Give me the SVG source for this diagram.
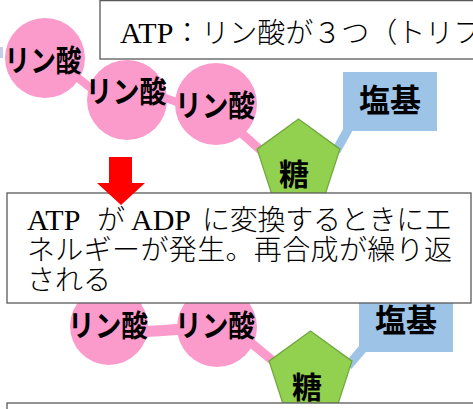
<svg xmlns="http://www.w3.org/2000/svg" width="473" height="409" viewBox="0 0 473 409">
<style>
.pink{fill:#fb9bcb}
.band{stroke:#fb9bcb;fill:none}
.bband{stroke:#9dc3e6;fill:none}
.blue{fill:#9dc3e6}
.sugar{fill:#92d050;stroke:#71a83c;stroke-width:1.3}
.lbl{font-family:'Noto Sans CJK JP','Noto Sans CJK SC',sans-serif;font-weight:bold;fill:#000;text-anchor:middle}
.box{fill:#fff;stroke:#595959;stroke-width:1.3}
.txt{font-family:'Liberation Serif','Noto Sans CJK JP',serif;font-size:28px;fill:#000;font-weight:300}
.lat{font-size:30px}
</style>
<rect x="0" y="47" width="3" height="11" fill="#c5cde8"/>
<g id="connectors">
<line class="band" x1="68" y1="70" x2="97" y2="93" stroke-width="8"/>
<line class="band" x1="160" y1="96" x2="182" y2="104" stroke-width="8"/>
<line class="band" x1="238" y1="130" x2="266" y2="155" stroke-width="9"/>
<line class="bband" x1="350" y1="126" x2="336" y2="151" stroke-width="9"/>
<line class="band" x1="140" y1="332" x2="185" y2="329" stroke-width="11"/>
<line class="band" x1="244" y1="337" x2="279" y2="366" stroke-width="9"/>
<line class="bband" x1="365" y1="346" x2="348" y2="366" stroke-width="9"/>
</g>
<g id="phosphate1"><circle class="pink" cx="45" cy="58" r="40"/><text class="lbl" x="43" y="71" font-size="30" textLength="77" lengthAdjust="spacingAndGlyphs">リン酸</text></g>
<g id="phosphate2"><circle class="pink" cx="127" cy="100" r="40"/><text class="lbl" x="126" y="102" font-size="30" textLength="81" lengthAdjust="spacingAndGlyphs">リン酸</text></g>
<g id="phosphate3"><circle class="pink" cx="216" cy="104" r="41"/><text class="lbl" x="215" y="116" font-size="30" textLength="80" lengthAdjust="spacingAndGlyphs">リン酸</text></g>
<g id="sugar1"><polygon class="sugar" points="298.5,119 339.9,149.1 324.1,197.7 272.9,197.7 257.1,149.1"/><text class="lbl" x="294" y="185" font-size="30">糖</text></g>
<g id="base1"><rect class="blue" x="343" y="72" width="94" height="59"/><text class="lbl" x="390" y="112" font-size="32" textLength="62" lengthAdjust="spacingAndGlyphs">塩基</text></g>
<g id="phosphate4"><circle class="pink" cx="109" cy="326" r="39"/><text class="lbl" x="108" y="336" font-size="30" textLength="80" lengthAdjust="spacingAndGlyphs">リン酸</text></g>
<g id="phosphate5"><circle class="pink" cx="217" cy="327" r="40"/><text class="lbl" x="215" y="336" font-size="30" textLength="80" lengthAdjust="spacingAndGlyphs">リン酸</text></g>
<g id="sugar2"><polygon class="sugar" points="310.5,331 351.9,361.1 336.1,409.7 284.9,409.7 269.1,361.1"/><text class="lbl" x="307" y="398" font-size="30">糖</text></g>
<g id="base2"><rect class="blue" x="359" y="290" width="94" height="62"/><text class="lbl" x="406" y="332" font-size="32" textLength="62" lengthAdjust="spacingAndGlyphs">塩基</text></g>
<g id="atpNote"><rect class="box" x="100" y="0.6" width="380" height="58.4"/><text class="txt" x="120" y="43"><tspan class="lat">ATP</tspan>：リン酸が３つ（トリフ</text></g>
<g id="note"><rect class="box" x="7" y="193" width="464" height="110"/>
<text class="txt" y="230"><tspan class="lat" x="27">ATP</tspan><tspan x="97">が</tspan><tspan class="lat" x="131">ADP</tspan><tspan x="202" textLength="250" lengthAdjust="spacing">に変換するときにエ</tspan></text>
<text class="txt" x="27" y="260" textLength="425" lengthAdjust="spacing">ネルギーが発生。再合成が繰り返</text>
<text class="txt" x="27" y="290">される</text>
</g>
<g id="arrow"><polygon points="109,157 132,157 132,183 145,183 121,205 97,183 109,183" fill="#ff0000"/></g>
<g id="note2"><rect class="box" x="7" y="403" width="470" height="20"/></g>
</svg>
